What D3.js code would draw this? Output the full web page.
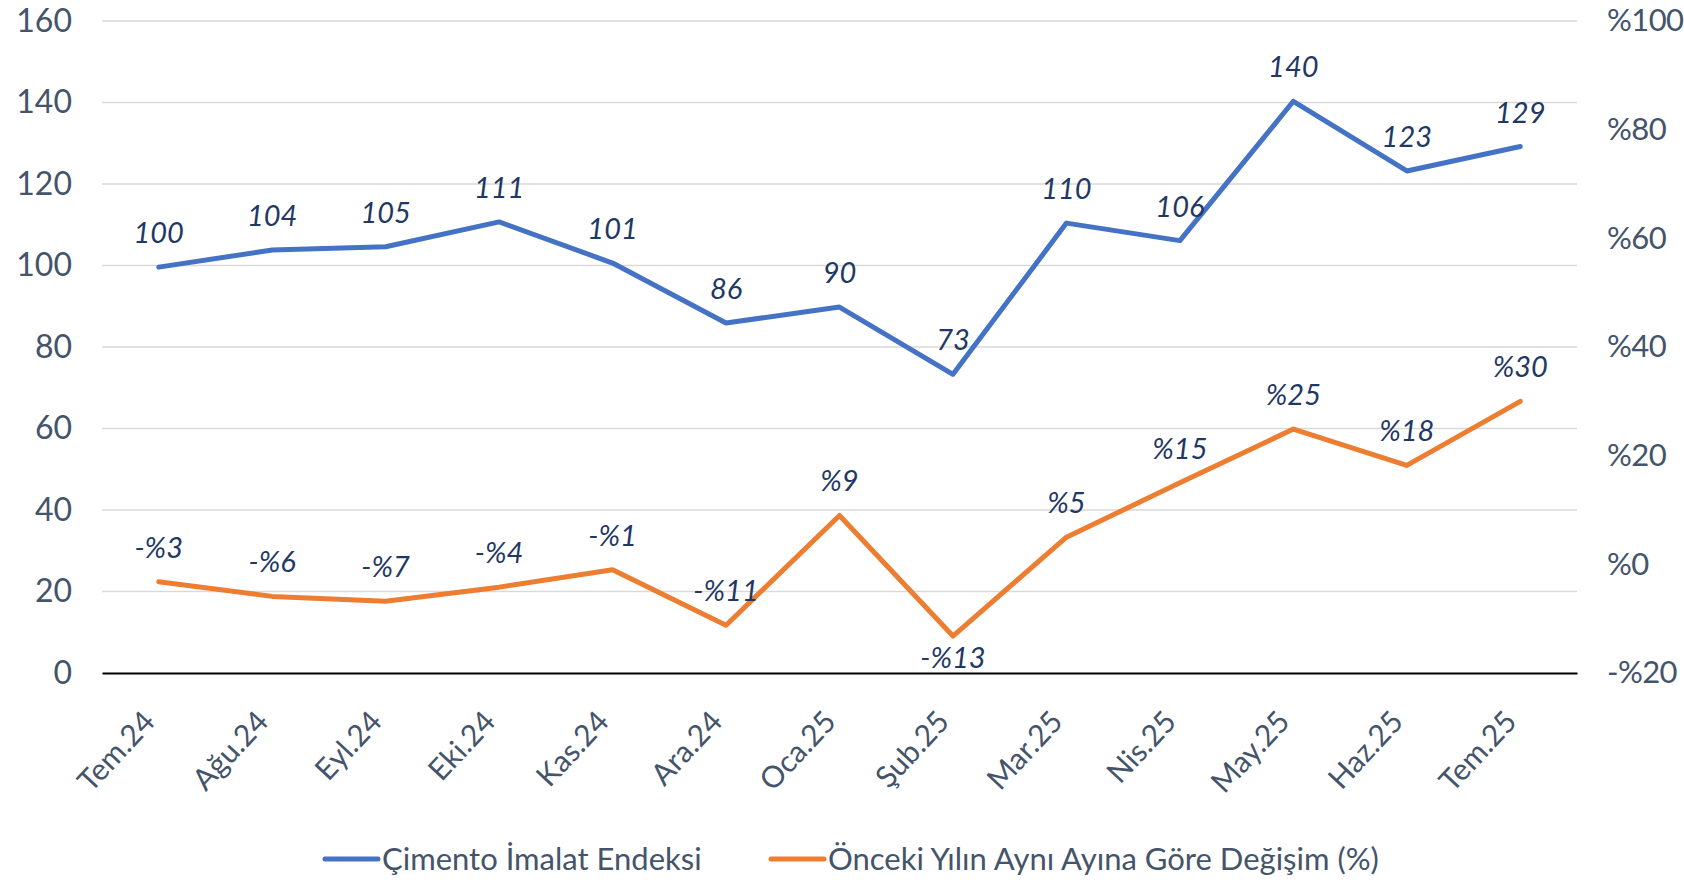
<!DOCTYPE html>
<html><head><meta charset="utf-8">
<script src="https://cdn.jsdelivr.net/npm/d3@7"></script>
<style>
html,body{margin:0;padding:0;background:#fff;}
svg{display:block;font-family:Lato,"Noto Sans",sans-serif;}
</style></head>
<body>
<svg id="c" width="1684" height="880"></svg>
<script>
const categories = ["Tem.24","Ağu.24","Eyl.24","Eki.24","Kas.24","Ara.24","Oca.25","Şub.25","Mar.25","Nis.25","May.25","Haz.25","Tem.25"];
const indexValues = [99.6,103.8,104.6,110.7,100.6,85.9,89.8,73.3,110.4,106.1,140.3,123.2,129.2];
const indexLabels = ["100","104","105","111","101","86","90","73","110","106","140","123","129"];
const changeValues = [-3.2,-5.9,-6.8,-4.2,-1.0,-11.2,9.0,-13.2,5.0,15.0,24.9,18.2,30.0];
const changeLabels = ["-%3","-%6","-%7","-%4","-%1","-%11","%9","-%13","%5","%15","%25","%18","%30"];
const leftTicks = [0,20,40,60,80,100,120,140,160];
const rightTicks = [-20,0,20,40,60,80,100];
const seriesNames = ["Çimento İmalat Endeksi","Önceki Yılın Aynı Ayına Göre Değişim (%)"];
const colors = ["#4472c4","#ed7d31"];

const svg = d3.select("#c");
const L = 102, R = 1577, T = 21, B = 673;
const x = d3.scaleBand().domain(categories).range([L, R]);
const cx = d => x(d) + x.bandwidth()/2;
const yL = d3.scaleLinear().domain([0,160]).range([B,T]);
const yR = d3.scaleLinear().domain([-20,100]).range([B,T]);

// gridlines
svg.append("g").selectAll("line").data(leftTicks.filter(d=>d>0)).join("line")
  .attr("x1",L).attr("x2",R).attr("y1",d=>yL(d)).attr("y2",d=>yL(d))
  .attr("stroke","#d9d9d9").attr("stroke-width",1.5);

// left axis
const gl = svg.append("g").attr("transform",`translate(${L},0)`)
  .call(d3.axisLeft(yL).tickValues(leftTicks).tickSize(0).tickPadding(30));
gl.select(".domain").remove();
gl.selectAll("text").attr("font-size",32).attr("fill","#44546a").attr("font-family","Lato");

// right axis
const gr = svg.append("g").attr("transform",`translate(${R},0)`)
  .call(d3.axisRight(yR).tickValues(rightTicks).tickSize(0).tickPadding(30)
    .tickFormat(d => d<0 ? "-%"+Math.abs(d) : "%"+d));
gr.select(".domain").remove();
gr.selectAll("text").attr("font-size",31).attr("letter-spacing","-0.6").attr("fill","#44546a").attr("font-family","Lato");

// x axis
const gx = svg.append("g").attr("transform",`translate(0,${B})`)
  .call(d3.axisBottom(x).tickSize(0).tickPadding(0));
gx.select(".domain").attr("stroke","#000").attr("stroke-width",2);
gx.selectAll("text")
  .attr("font-size",30).attr("fill","#44546a").attr("font-family","Lato")
  .attr("text-anchor","end").attr("dy",0).attr("y",0).attr("x",0)
  .attr("transform","translate(-2,50) rotate(-47)");

// lines
const lineL = d3.line().x((d,i)=>cx(categories[i])).y(d=>yL(d));
const lineR = d3.line().x((d,i)=>cx(categories[i])).y(d=>yR(d));
svg.append("path").datum(indexValues).attr("d",lineL).attr("fill","none")
  .attr("stroke",colors[0]).attr("stroke-width",5).attr("stroke-linejoin","round").attr("stroke-linecap","round");
svg.append("path").datum(changeValues).attr("d",lineR).attr("fill","none")
  .attr("stroke",colors[1]).attr("stroke-width",5).attr("stroke-linejoin","round").attr("stroke-linecap","round");

// data labels
svg.append("g").selectAll("text").data(indexValues).join("text")
  .attr("x",(d,i)=>cx(categories[i])).attr("y",d=>yL(d)-24)
  .attr("text-anchor","middle").attr("font-size",29).attr("font-style","italic")
  .attr("fill","#1f3864").text((d,i)=>indexLabels[i]);
svg.append("g").selectAll("text").data(changeValues).join("text")
  .attr("x",(d,i)=>cx(categories[i]))
  .attr("y",(d,i)=> i===7 ? yR(d)+32 : yR(d)-24)
  .attr("text-anchor","middle").attr("font-size",29).attr("font-style","italic")
  .attr("fill","#1f3864").text((d,i)=>changeLabels[i]);

// legend
const leg = [{x:325, name:seriesNames[0], c:colors[0]},{x:771, name:seriesNames[1], c:colors[1]}];
const lg = svg.append("g");
leg.forEach(o=>{
  lg.append("line").attr("x1",o.x).attr("x2",o.x+53).attr("y1",859).attr("y2",859)
    .attr("stroke",o.c).attr("stroke-width",5).attr("stroke-linecap","round");
  lg.append("text").attr("x",o.x+57).attr("y",859).attr("dy","0.35em")
    .attr("font-size",31).attr("fill","#44546a").text(o.name);
});
</script>
</body></html>
